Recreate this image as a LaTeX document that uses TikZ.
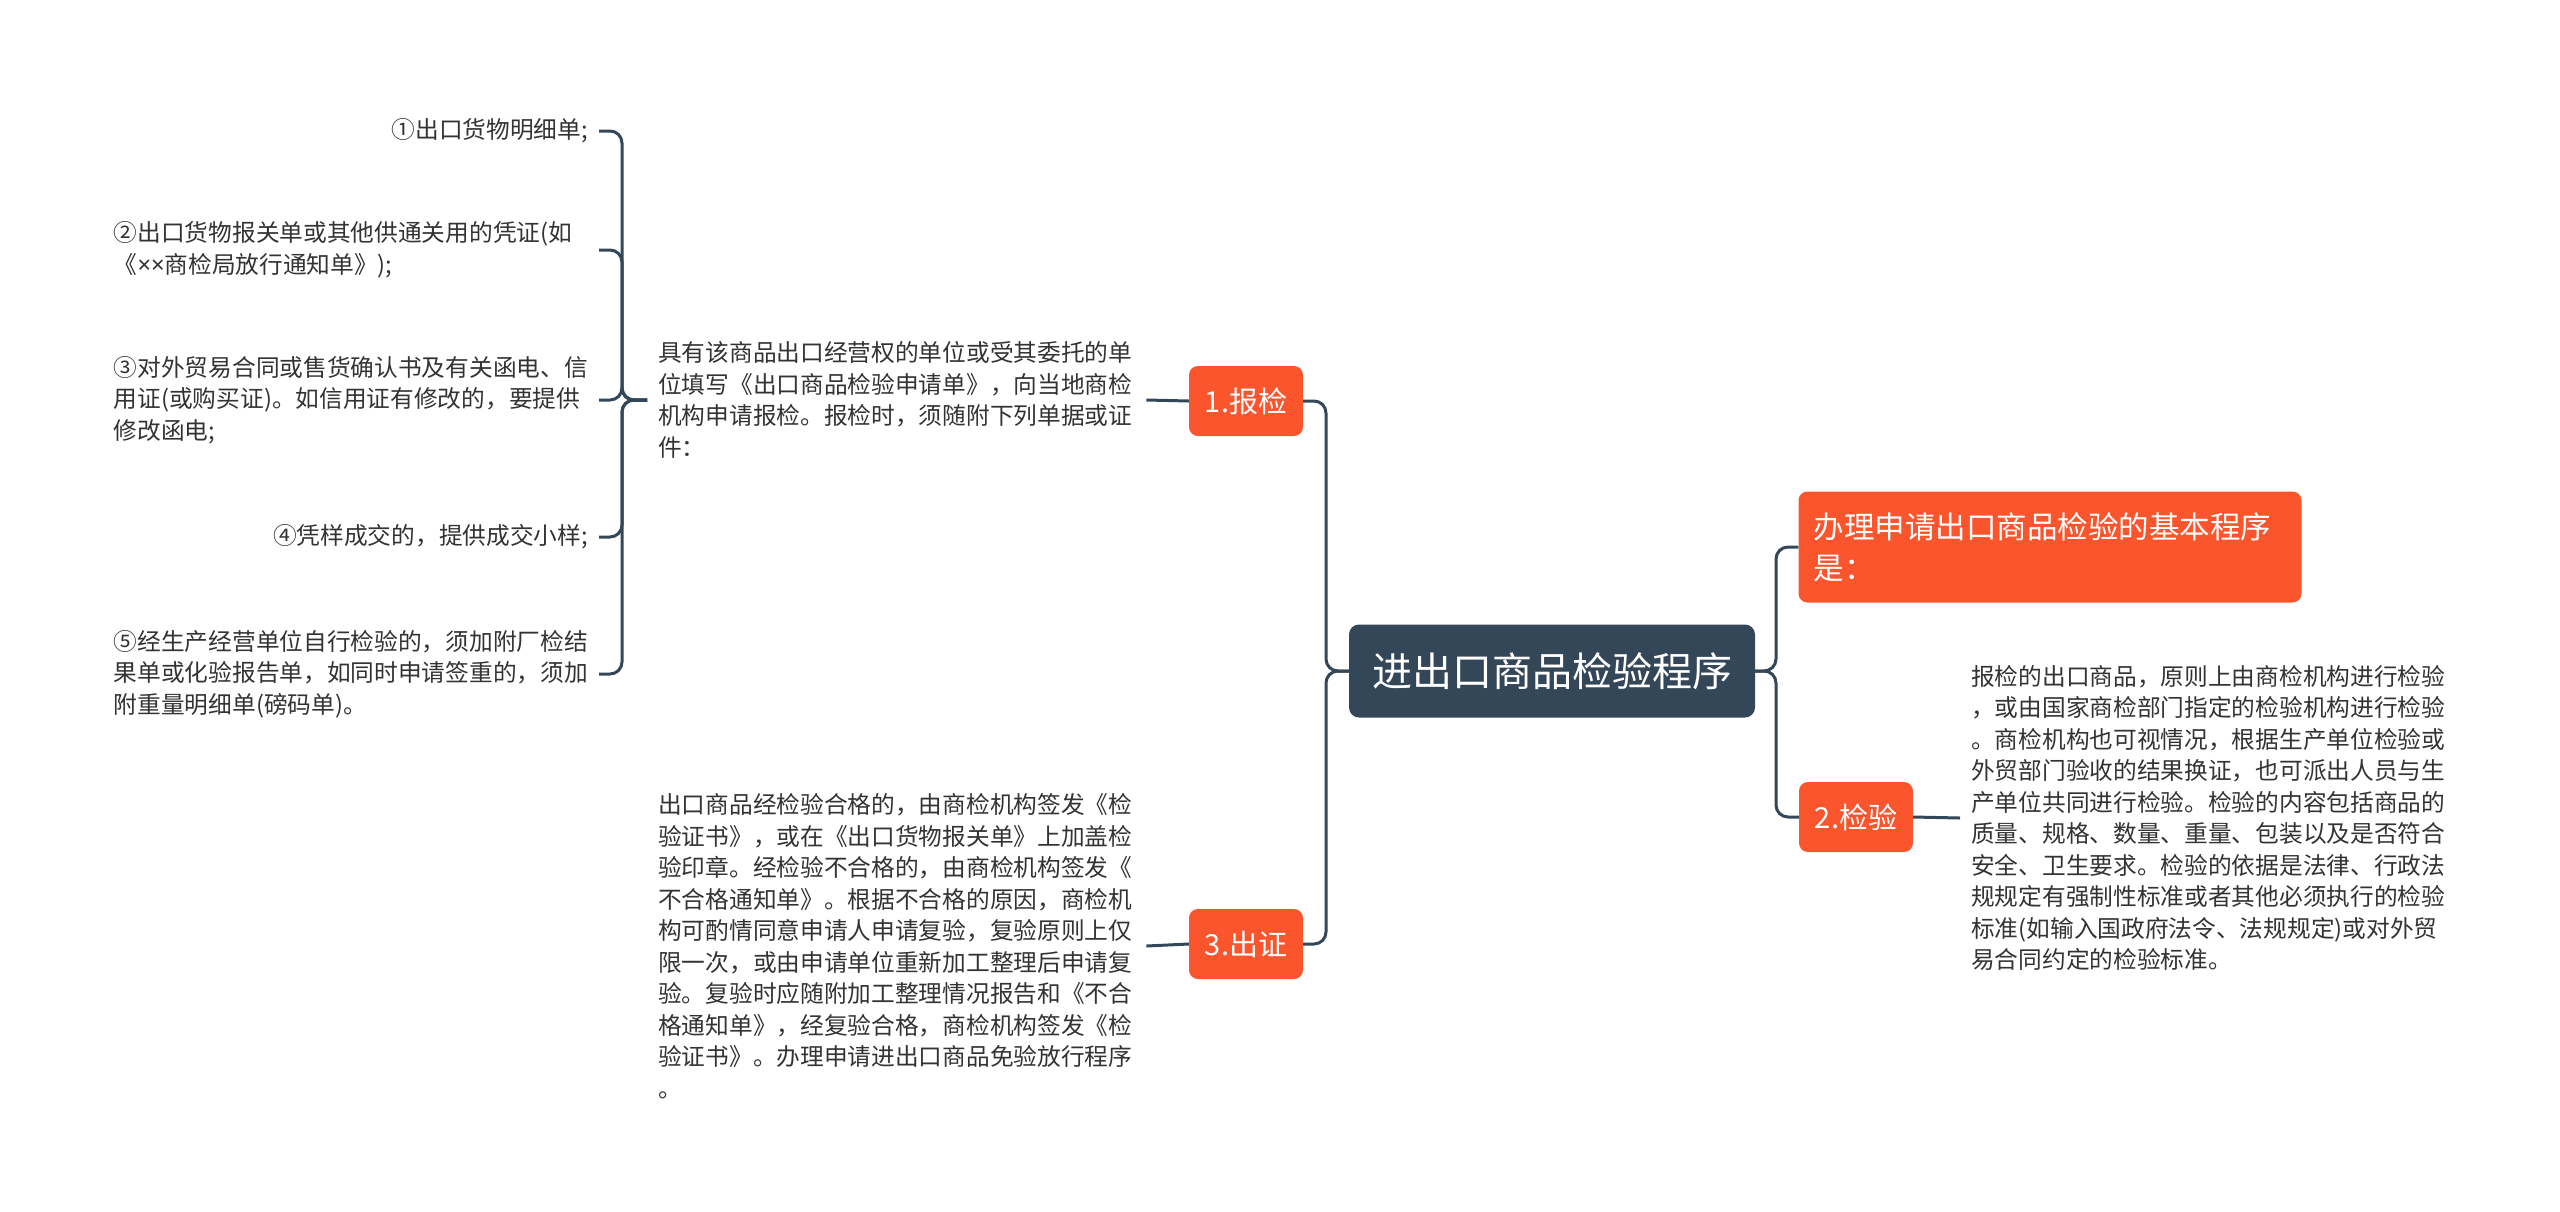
\documentclass[tikz,border=0pt]{standalone}
\usepackage{fontspec}
\setmainfont{Noto Sans CJK SC}
\newfontfamily\latinsym{Noto Sans}
\definecolor{orng}{HTML}{FA552D}
\definecolor{dark}{HTML}{344759}
\definecolor{tc}{HTML}{333333}
\tikzset{
  conn/.style={draw=dark, line width=3pt, rounded corners=12pt},
  obox/.style={fill=orng, rounded corners=9pt, text=white, font=\fontsize{29}{36}\selectfont, inner sep=0pt, minimum width=114pt, minimum height=70pt},
  plain/.style={text=tc, font=\fontsize{23.7}{31.5}\selectfont, inner xsep=11pt, inner ysep=4pt, align=left},
  wide/.style={plain, text width=477pt},
}
\begin{document}
\begin{tikzpicture}[x=1pt,y=-1pt]
\fill[white] (0,0) rectangle (2560,1211);
\useasboundingbox (0,0) rectangle (2560,1211);

\node[fill=dark, rounded corners=10pt, text=white, font=\fontsize{40}{48}\selectfont, minimum width=406pt, minimum height=93pt, inner sep=0pt] (root) at (1552,671) {进出口商品检验程序};

\node[obox] (b1) at (1246,401) {1.报检};
\node[obox] (b3) at (1246,944) {3.出证};
\node[obox] (b2) at (1856,817) {2.检验};
\node[fill=orng, rounded corners=9pt, text=white, font=\fontsize{30.5}{41}\selectfont, minimum width=503pt, minimum height=111pt, inner xsep=15pt, text width=473pt, align=left] (top) at (2050,547) {办理申请出口商品检验的基本程序\\是：};

\node[wide, anchor=west] (t1) at (647,400) {具有该商品出口经营权的单位或受其委托的单\\位填写《出口商品检验申请单》，向当地商检\\机构申请报检。报检时，须随附下列单据或证\\件：};

\node[wide, anchor=west] (t3) at (647,946) {出口商品经检验合格的，由商检机构签发《检\\验证书》，或在《出口货物报关单》上加盖检\\验印章。经检验不合格的，由商检机构签发《\\不合格通知单》。根据不合格的原因，商检机\\构可酌情同意申请人申请复验，复验原则上仅\\限一次，或由申请单位重新加工整理后申请复\\验。复验时应随附加工整理情况报告和《不合\\格通知单》，经复验合格，商检机构签发《检\\验证书》。办理申请进出口商品免验放行程序\\。};

\node[wide, anchor=west] (t2) at (1960,818) {报检的出口商品，原则上由商检机构进行检验\\，或由国家商检部门指定的检验机构进行检验\\。商检机构也可视情况，根据生产单位检验或\\外贸部门验收的结果换证，也可派出人员与生\\产单位共同进行检验。检验的内容包括商品的\\质量、规格、数量、重量、包装以及是否符合\\安全、卫生要求。检验的依据是法律、行政法\\规规定有强制性标准或者其他必须执行的检验\\标准(如输入国政府法令、法规规定)或对外贸\\易合同约定的检验标准。};

\node[plain, anchor=east] (l1) at (599,131) {①出口货物明细单;};
\node[plain, text width=474pt, anchor=east] (l2) at (599,250) {②出口货物报关单或其他供通关用的凭证(如\\《{\latinsym ××}商检局放行通知单》);};
\node[plain, text width=474pt, anchor=east] (l3) at (599,400) {③对外贸易合同或售货确认书及有关函电、信\\用证(或购买证)。如信用证有修改的，要提供\\修改函电;};
\node[plain, anchor=east] (l4) at (599,537) {④凭样成交的，提供成交小样;};
\node[plain, text width=474pt, anchor=east] (l5) at (599,674) {⑤经生产经营单位自行检验的，须加附厂检结\\果单或化验报告单，如同时申请签重的，须加\\附重量明细单(磅码单)。};

\draw[conn] (root.west) -- (1326,671) |- (b1.east);
\draw[conn] (root.west) -- (1326,671) |- (b3.east);
\draw[conn] (root.east) -- (1776,671) |- (top.west);
\draw[conn] (root.east) -- (1776,671) |- (b2.west);
\draw[conn] (b1.west) -- (t1.east);
\draw[conn] (b3.west) -- (t3.east);
\draw[conn] (b2.east) -- (t2.west);
\foreach \l in {l1,l2,l3,l4,l5}{
  \draw[conn] (t1.west) -- (622,400) |- (\l.east);
}
\end{tikzpicture}
\end{document}
